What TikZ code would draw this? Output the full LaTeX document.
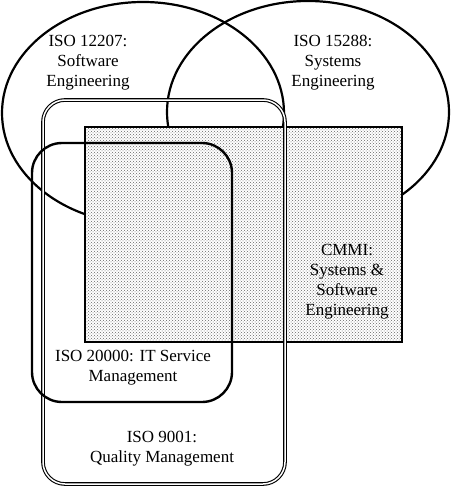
\documentclass[tikz,border=0pt]{standalone}
\usepackage{fontspec}
\setmainfont{Liberation Serif}
\usetikzlibrary{shapes.geometric, patterns, positioning}

\tikzset{
  stdellipse/.style={draw, ellipse, line width=2.2pt, inner sep=0pt,
        minimum width=282pt, minimum height=222pt},
  stdlabel/.style={align=center, inner sep=0pt,
        font=\fontsize{17}{20}\selectfont},
}

\begin{document}
\begin{tikzpicture}[x=1pt, y=-1pt]
  \useasboundingbox (0,0) rectangle (450,487);

  % the two engineering standards
  \node[stdellipse] (swe) at (143,113) {};
  \node[stdellipse] (sye) at (308,112) {};

  % CMMI, dotted box over the ellipses
  \node[draw, line width=2.2pt, inner sep=0pt,
        preaction={fill=white}, pattern=crosshatch dots, pattern color=black!60,
        minimum width=317pt, minimum height=215pt] (cmmi) at (243.5,234.5) {};

  % quality and service management
  \node[draw, double, line width=1.1pt, double distance=1.5pt,
        rounded corners=22pt, inner sep=0pt,
        minimum width=242pt, minimum height=384pt] (qm) at (164,292) {};
  \node[draw, line width=2.4pt, rounded corners=30pt, inner sep=0pt,
        minimum width=200pt, minimum height=259pt] (itsm) at (132,272.5) {};

  \node[stdlabel] (swetext) at (88,63) {ISO 12207:\\Software\\Engineering};
  \node[stdlabel] (syetext) at (333,63) {ISO 15288:\\Systems\\Engineering};
  \node[stdlabel] (cmmitext) at (347,282) {CMMI:\\Systems \&\\Software\\Engineering};
  \node[stdlabel] (itsmtext) at (133,368) {ISO 20000: IT Service\\Management};
  \node[stdlabel] (qmtext) at (162,449) {ISO 9001:\\Quality Management};
\end{tikzpicture}
\end{document}
